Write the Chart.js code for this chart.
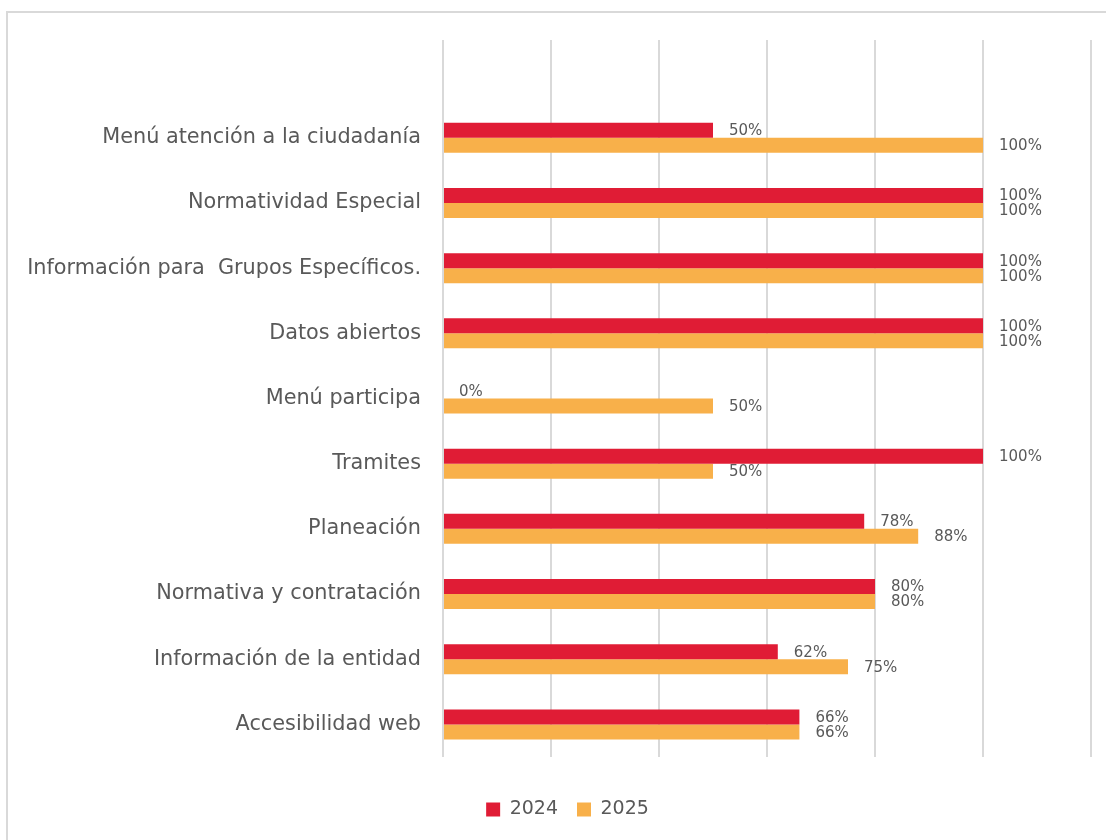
<!DOCTYPE html>
<html>
<head>
<meta charset="utf-8">
<script src="https://cdn.jsdelivr.net/npm/chart.js@4.4.1/dist/chart.umd.min.js"></script>
<style>
  html, body { margin: 0; padding: 0; background: #fff; overflow: hidden; }
  #frame { position: absolute; left: 6px; top: 11px; width: 1130px; height: 860px;
           border-left: 2px solid #d9d9d9; border-top: 2px solid #d9d9d9; }
  #c { position: absolute; left: 0; top: 0; }
</style>
</head>
<body>
<div id="frame"></div>
<canvas id="c" width="1106" height="840"></canvas>
<script>
// Categories (top to bottom); the leading "" is the empty top slot of the plot area
const categories = [
  "",
  "Menú atención a la ciudadanía",
  "Normatividad Especial",
  "Información para  Grupos Específicos.",
  "Datos abiertos",
  "Menú participa",
  "Tramites",
  "Planeación",
  "Normativa y contratación",
  "Información de la entidad",
  "Accesibilidad web"
];
const values2024 = [null, 50, 100, 100, 100, 0, 100, 78, 80, 62, 66];
const values2025 = [null, 100, 100, 100, 100, 50, 50, 88, 80, 75, 66];
const seriesNames = ["2024", "2025"];
const xMin = 0, xMax = 120, xStep = 20;

const FONT = '"DejaVu Sans", sans-serif';

const labelPlugin = {
  id: 'valueLabels',
  afterLayout(chart) {
    // the legend is centred on the (wider) chart frame, not on the canvas
    if (chart.legend) { chart.legend.left += 22; chart.legend.right += 22; }
  },
  afterDatasetsDraw(chart) {
    const ctx = chart.ctx;
    ctx.save();
    ctx.font = '15px ' + FONT;
    ctx.fillStyle = '#595959';
    ctx.textAlign = 'left';
    ctx.textBaseline = 'middle';
    chart.data.datasets.forEach((ds, di) => {
      const meta = chart.getDatasetMeta(di);
      meta.data.forEach((el, i) => {
        const v = ds.data[i];
        if (v === null || v === undefined) return;
        ctx.fillText(v + '%', el.x + 16, el.y + 1);
      });
    });
    ctx.restore();
  }
};

new Chart(document.getElementById('c'), {
  type: 'bar',
  data: {
    labels: categories,
    datasets: [
      { label: seriesNames[0], data: values2024, backgroundColor: '#E01C35',
        categoryPercentage: 0.46, barPercentage: 1.0 },
      { label: seriesNames[1], data: values2025, backgroundColor: '#F8B04A',
        categoryPercentage: 0.46, barPercentage: 1.0 }
    ]
  },
  options: {
    indexAxis: 'y',
    responsive: false,
    animation: false,
    layout: { padding: { left: 0, right: 15, top: 40, bottom: 11 } },
    scales: {
      x: {
        min: xMin, max: xMax,
        afterFit(scale) { scale.height = 24; },
        ticks: { display: false, stepSize: xStep },
        grid: { color: '#d9d9d9', lineWidth: 2, drawTicks: false },
        border: { display: false }
      },
      y: {
        afterFit(scale) { scale.width = 443; },
        grid: { display: false, drawTicks: false },
        border: { display: false },
        ticks: { padding: 22, color: '#595959', font: { family: FONT, size: 20.8 } }
      }
    },
    plugins: {
      legend: {
        position: 'bottom',
        labels: { boxWidth: 14, boxHeight: 14, padding: 19, color: '#595959',
                  font: { family: FONT, size: 19 } }
      },
      tooltip: { enabled: false }
    }
  },
  plugins: [labelPlugin]
});
</script>
</body>
</html>
